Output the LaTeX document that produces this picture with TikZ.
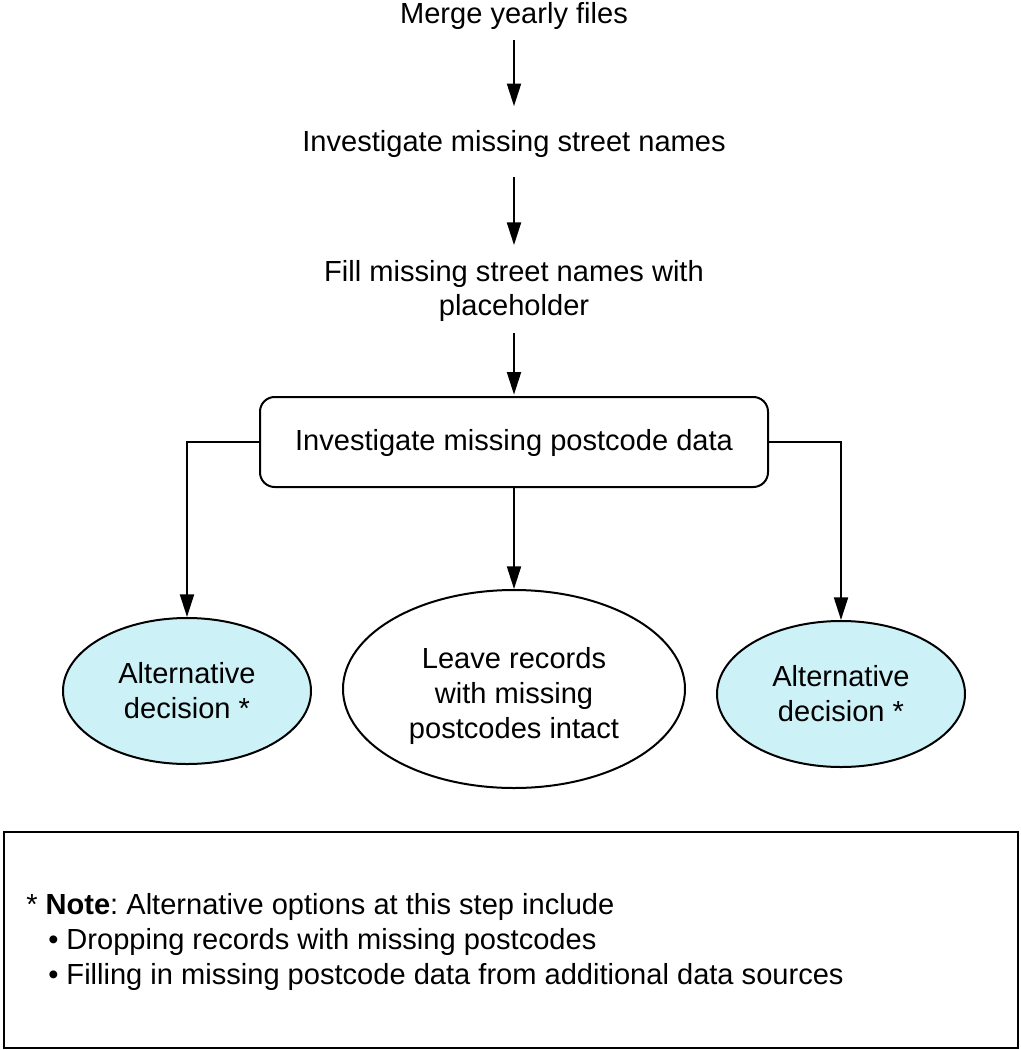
\documentclass[tikz,border=0pt]{standalone}
\usepackage{fontspec}
\setmainfont{Liberation Sans}
\usetikzlibrary{shapes.geometric,arrows.meta}
\definecolor{altfill}{RGB}{204,242,248}
\begin{document}
\frenchspacing
\begin{tikzpicture}[x=0.75pt,y=-0.75pt,
  every node/.style={font=\fontsize{21.8}{26.2}\selectfont, inner sep=0pt, align=center},
  arr/.style={line width=1.5pt, -{Triangle[length=17pt,width=10.5pt]}},
  alt/.style={ellipse, draw, line width=1.5pt, fill=altfill, minimum width=186pt, minimum height=109.5pt},
  mainell/.style={ellipse, draw, line width=1.5pt, fill=white, minimum width=256.5pt, minimum height=148.5pt},
  stepbox/.style={draw, line width=1.5pt, rounded corners=11pt, minimum width=381pt, minimum height=67.5pt}
]
\useasboundingbox (0,0) rectangle (1021,1050);
\node (m1) at (514,16) {Merge yearly files};
\node (m2) at (514,144) {Investigate missing street names};
\node (m3) at (514,291) {Fill missing street names with\\placeholder};
\node[stepbox] (box) at (514,442) {};
\node (boxt) at (514,443) {Investigate missing postcode data};
\node[alt] (lell) at (187,691) {Alternative\\decision *};
\node[mainell] (mell) at (514,689) {};
\node (mellt) at (514,696) {Leave records\\with missing\\postcodes intact};
\node[alt] (rell) at (841,694) {Alternative\\decision *};
\draw[arr, shorten <=8pt, shorten >=18pt] (m1) -- (m2);
\draw[arr, shorten <=14.5pt, shorten >=11pt] (m2) -- (m3);
\draw[arr, shorten <=8pt, shorten >=1pt] (m3) -- (box);
\draw[arr] (box.west) -| (lell.north);
\draw[arr] (box.south) -- (mell.north);
\draw[arr] (box.east) -| (rell.north);
\node[draw, line width=1.5pt, minimum width=760.5pt, minimum height=162pt] (note) at (511,940) {};
\node[anchor=west, align=left] (notet) at (26,942) {* \textbf{Note}: Alternative options at this step include\\
\hspace*{16.5pt}• Dropping records with missing postcodes\\
\hspace*{16.5pt}• Filling in missing postcode data from additional data sources};
\end{tikzpicture}
\end{document}
